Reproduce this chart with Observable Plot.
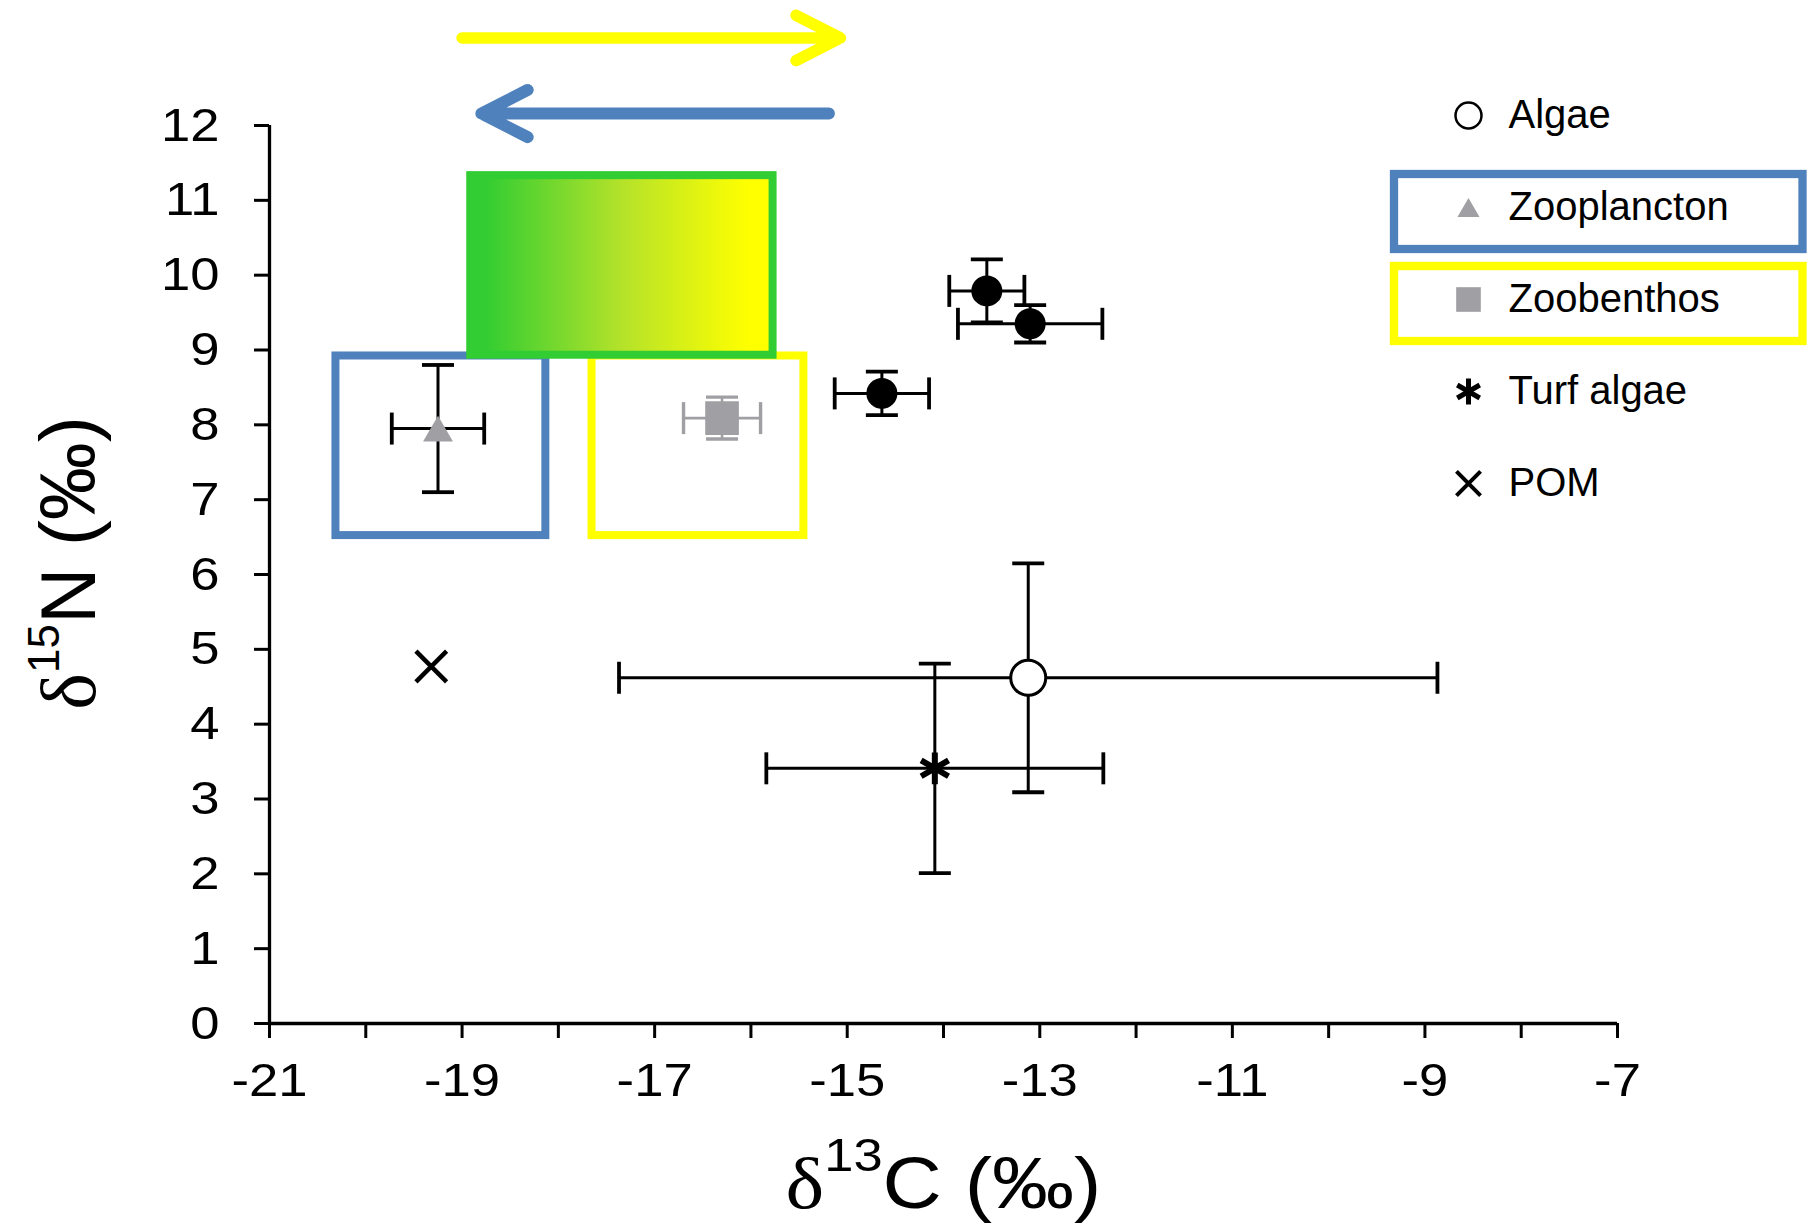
<!DOCTYPE html>
<html>
<head>
<meta charset="utf-8">
<script src="https://cdn.jsdelivr.net/npm/d3@7"></script>
<script src="https://cdn.jsdelivr.net/npm/@observablehq/plot@0.6"></script>
<style>
  html, body { margin: 0; padding: 0; background: #fff; overflow: hidden; }
  #figure { position: relative; width: 1813px; height: 1226px; }
  #figure svg { display: block; }
  #legend { position: absolute; left: 1380px; top: 67px; }
</style>
</head>
<body>
<div id="figure"><div id="legend"></div></div>
<script>
// Consumers: mean δ13C / δ15N (‰) ± SD
const fishC = [-14.64, -13.55, -13.10];
const fishN = [8.42, 9.79, 9.35];
const fishCsd = [0.49, 0.39, 0.75];
const fishNsd = [0.29, 0.42, 0.25];

// Food sources: mean δ13C / δ15N (‰) ± SD (POM has no spread)
const sourceNames = ["Algae", "Zooplancton", "Zoobenthos", "Turf algae", "POM"];
const sourceC = [-13.12, -19.25, -16.30, -14.09, -19.32];
const sourceN = [4.62, 7.95, 8.09, 3.41, 4.77];
const sourceCsd = [4.25, 0.48, 0.40, 1.75, null];
const sourceNsd = [1.53, 0.85, 0.28, 1.40, null];

// Expected consumer ranges (δ13C span × δ15N span)
const boxNames = ["Zooplancton", "Zoobenthos", "Mixed"];
const boxC1 = [-20.31, -17.65, -18.91];
const boxC2 = [-18.13, -15.45, -15.77];
const boxN1 = [6.52, 6.52, 8.93];
const boxN2 = [8.92, 8.92, 11.33];

// Diet-shift arrows along δ13C
const arrowNames = ["Zoobenthos", "Zooplancton"];
const arrowC1 = [-19.00, -15.19];
const arrowC2 = [-15.07, -18.80];
const arrowN = [13.17, 12.16];

// Axes
const xTicks = [-21, -19, -17, -15, -13, -11, -9, -7];
const xMinorTicks = [-20, -18, -16, -14, -12, -10, -8];
const yTicks = [0, 1, 2, 3, 4, 5, 6, 7, 8, 9, 10, 11, 12];
const xTitle = "δ13C (‰)";
const yTitle = "δ15N (‰)";
const legendLabels = ["Algae", "Zooplancton", "Zoobenthos", "Turf algae", "POM"];

// Colours
const BLUE = "#4F81BD";
const YELLOW = "#FFFF00";
const GREEN = "#32CD32";
const GREY = "#A0A0A4";
const SANS = "Liberation Sans, Arial, sans-serif";
const SERIF = "Liberation Serif, Times New Roman, serif";

const fish = fishC.map((c, i) => ({c, n: fishN[i], cs: fishCsd[i], ns: fishNsd[i]}));
const sources = sourceNames.map((name, i) => ({name, c: sourceC[i], n: sourceN[i], cs: sourceCsd[i], ns: sourceNsd[i]}));
const boxes = boxNames.map((name, i) => ({name, c1: boxC1[i], c2: boxC2[i], n1: boxN1[i], n2: boxN2[i]}));
const arrows = arrowNames.map((name, i) => ({name, c1: arrowC1[i], c2: arrowC2[i], n: arrowN[i]}));
const source = (name) => sources.filter((d) => d.name === name);
const box = (name) => boxes.filter((d) => d.name === name);

// Error-bar caps and a bounding-box-centred triangle as custom symbols
const capV = {draw(ctx, size) { const r = Math.sqrt(size / Math.PI); ctx.moveTo(0, -r); ctx.lineTo(0, r); }};
const capH = {draw(ctx, size) { const r = Math.sqrt(size / Math.PI); ctx.moveTo(-r, 0); ctx.lineTo(r, 0); }};
const triangleUp = {draw(ctx, size) {
  const s = Math.sqrt(4 * size / Math.sqrt(3)), h = s * Math.sqrt(3) / 2;
  ctx.moveTo(0, -h / 2); ctx.lineTo(s / 2, h / 2); ctx.lineTo(-s / 2, h / 2); ctx.closePath();
}};

function errorBars(data, color, width) {
  return [
    Plot.ruleY(data, {y: "n", x1: (d) => d.c - d.cs, x2: (d) => d.c + d.cs, stroke: color, strokeWidth: width}),
    Plot.ruleX(data, {x: "c", y1: (d) => d.n - d.ns, y2: (d) => d.n + d.ns, stroke: color, strokeWidth: width}),
    Plot.dot(data, {x: (d) => d.c - d.cs, y: "n", symbol: capV, r: 16, fill: "none", stroke: color, strokeWidth: width + 0.8}),
    Plot.dot(data, {x: (d) => d.c + d.cs, y: "n", symbol: capV, r: 16, fill: "none", stroke: color, strokeWidth: width + 0.8}),
    Plot.dot(data, {x: "c", y: (d) => d.n - d.ns, symbol: capH, r: 16, fill: "none", stroke: color, strokeWidth: width + 0.8}),
    Plot.dot(data, {x: "c", y: (d) => d.n + d.ns, symbol: capH, r: 16, fill: "none", stroke: color, strokeWidth: width + 0.8})
  ];
}

const blackBars = [...fish, ...source("Algae"), ...source("Zooplancton"), ...source("Turf algae")];

const chart = Plot.plot({
  width: 1813,
  height: 1226,
  marginTop: 125,
  marginRight: 196,
  marginBottom: 203,
  marginLeft: 269,
  x: {domain: [-21, -7], label: null},
  y: {domain: [0, 12], label: null},
  style: {fontFamily: SANS, color: "black", background: "white", overflow: "visible"},
  marks: [
    // expected ranges
    Plot.rect(box("Zooplancton"), {x1: "c1", x2: "c2", y1: "n1", y2: "n2", fill: "none", stroke: BLUE, strokeWidth: 8}),
    Plot.rect(box("Zoobenthos"), {x1: "c1", x2: "c2", y1: "n1", y2: "n2", fill: "none", stroke: YELLOW, strokeWidth: 8}),
    Plot.rect(box("Mixed"), {x1: "c1", x2: "c2", y1: "n1", y2: "n2", fill: "url(#mixGradient)", stroke: GREEN, strokeWidth: 8}),

    // axes
    Plot.ruleX([-21], {y1: 0, y2: 12, strokeWidth: 3.3}),
    Plot.ruleY([0], {x1: -21, x2: -7, strokeWidth: 3.3}),
    Plot.axisY({ticks: yTicks, tickSize: 15, tickPadding: 35, fontSize: 47, strokeWidth: 3, tickFormat: (d) => String(d), label: null}),
    Plot.axisX({ticks: xTicks, tickSize: 15, tickPadding: 24, fontSize: 47, strokeWidth: 3, tickFormat: (d) => String(d), label: null}),
    Plot.axisX({ticks: xMinorTicks, tickSize: 15, text: null, strokeWidth: 3, label: null}),
    Plot.text([xTitle], {frameAnchor: "bottom", dy: 161, text: (d) => d, fontSize: 72, textAnchor: "middle", lineAnchor: "middle"}),
    Plot.text([yTitle], {frameAnchor: "left", dx: -199, dy: -11.5, rotate: -90, text: (d) => d, fontSize: 78, textAnchor: "middle", lineAnchor: "middle"}),

    // error bars
    ...errorBars(blackBars, "black", 3),
    ...errorBars(source("Zoobenthos"), GREY, 2.6),

    // markers
    Plot.dot(fish, {x: "c", y: "n", r: 15.5, fill: "black", stroke: "none"}),
    Plot.dot(source("Algae"), {x: "c", y: "n", r: 17.5, fill: "white", stroke: "black", strokeWidth: 3}),
    Plot.dot(source("Zooplancton"), {x: "c", y: "n", symbol: triangleUp, r: 11.1, fill: GREY, stroke: "none"}),
    Plot.dot(source("Zoobenthos"), {x: "c", y: "n", symbol: "square", r: 19, fill: GREY, stroke: "none"}),
    Plot.dot(source("Turf algae"), {x: "c", y: "n", symbol: "asterisk", r: 15, fill: "none", stroke: "black", strokeWidth: 6}),
    Plot.dot(source("POM"), {x: "c", y: "n", symbol: "times", r: 14, fill: "none", stroke: "black", strokeWidth: 4.5}),

    // diet-shift arrows
    Plot.arrow(arrows.filter((d) => d.name === "Zoobenthos"), {x1: "c1", x2: "c2", y1: "n", y2: "n", stroke: YELLOW, strokeWidth: 11.5, headLength: 6.5, headAngle: 54, strokeLinecap: "round", strokeLinejoin: "miter"}),
    Plot.arrow(arrows.filter((d) => d.name === "Zooplancton"), {x1: "c1", x2: "c2", y1: "n", y2: "n", stroke: BLUE, strokeWidth: 12, headLength: 6.5, headAngle: 54, strokeLinecap: "round", strokeLinejoin: "miter"})
  ]
});

// green-to-yellow fill for the mixed-diet range
const defs = d3.select(chart).insert("defs", ":first-child");
const grad = defs.append("linearGradient").attr("id", "mixGradient")
  .attr("x1", "0").attr("x2", "1").attr("y1", "0").attr("y2", "0");
grad.append("stop").attr("offset", "5%").attr("stop-color", GREEN);
grad.append("stop").attr("offset", "50%").attr("stop-color", "#B4E22A");
grad.append("stop").attr("offset", "92%").attr("stop-color", YELLOW);

// horizontally widen lettering about its anchor point
function widen(t, sx) {
  const tr = t.getAttribute("transform") || "";
  t.setAttribute("transform", `${tr} scale(${sx},1)`);
}

// δ in serif with a raised isotope number
function setRichText(el, parts) {
  while (el.firstChild) el.removeChild(el.firstChild);
  for (const p of parts) {
    const ts = document.createElementNS("http://www.w3.org/2000/svg", "tspan");
    if (p.family) ts.setAttribute("font-family", p.family);
    if (p.size) ts.setAttribute("font-size", p.size);
    if (p.dy) ts.setAttribute("dy", p.dy);
    ts.textContent = p.text;
    el.appendChild(ts);
  }
}

const texts = Array.from(chart.querySelectorAll("text"));
const xt = texts.find((t) => t.textContent === xTitle);
const yt = texts.find((t) => t.textContent === yTitle);
texts.filter((t) => t !== xt && t !== yt).forEach((t) => widen(t, 1.12));
if (xt) {
  setRichText(xt, [{text: "δ", family: SERIF}, {text: "13", size: 46, dy: -37}, {text: "C (‰)", dy: 37}]);
  widen(xt, 1.14);
}
if (yt) setRichText(yt, [{text: "δ", family: SERIF}, {text: "15", size: 44, dy: -36}, {text: "N (‰)", dy: 36}]);

document.getElementById("figure").prepend(chart);

// legend
const legend = Plot.plot({
  width: 433,
  height: 463,
  marginTop: 0,
  marginBottom: 0,
  marginLeft: 14,
  marginRight: 10.5,
  x: {domain: [0, 1], axis: null},
  y: {domain: legendLabels, axis: null, padding: 0},
  style: {fontFamily: SANS, color: "black", background: "transparent", overflow: "visible"},
  marks: [
    Plot.barX(["Zooplancton"], {y: (d) => d, x1: 0, x2: 1, fill: "white", stroke: BLUE, strokeWidth: 8.3, insetTop: 13, insetBottom: 4}),
    Plot.barX(["Zoobenthos"], {y: (d) => d, x1: 0, x2: 1, fill: "white", stroke: YELLOW, strokeWidth: 8.3, insetTop: 13, insetBottom: 4}),
    Plot.dot(["Algae"], {y: (d) => d, frameAnchor: "left", dx: 74, r: 13, fill: "white", stroke: "black", strokeWidth: 2.5}),
    Plot.dot(["Zooplancton"], {y: (d) => d, frameAnchor: "left", dx: 74, symbol: triangleUp, r: 8.2, fill: GREY, stroke: "none"}),
    Plot.dot(["Zoobenthos"], {y: (d) => d, frameAnchor: "left", dx: 74, symbol: "square", r: 13.9, fill: GREY, stroke: "none"}),
    Plot.dot(["Turf algae"], {y: (d) => d, frameAnchor: "left", dx: 74, symbol: "asterisk", r: 12.3, fill: "none", stroke: "black", strokeWidth: 5}),
    Plot.dot(["POM"], {y: (d) => d, frameAnchor: "left", dx: 74, symbol: "times", r: 11, fill: "none", stroke: "black", strokeWidth: 4}),
    Plot.text(legendLabels, {y: (d) => d, frameAnchor: "left", dx: 114, text: (d) => d, textAnchor: "start", lineAnchor: "middle", fontSize: 40})
  ]
});
document.getElementById("legend").append(legend);
</script>
</body>
</html>
